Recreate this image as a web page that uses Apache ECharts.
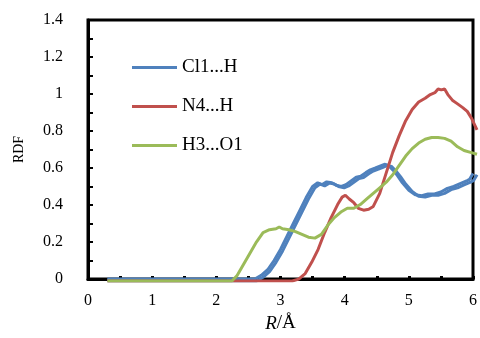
<!DOCTYPE html>
<html><head><meta charset="utf-8">
<script src="https://cdn.jsdelivr.net/npm/echarts@6/dist/echarts.min.js"></script>
<style>html,body{margin:0;padding:0;background:#fff}.layer{position:absolute;left:0;top:0;width:480px;height:338px}</style></head>
<body><div class="layer" id="axes"></div><div class="layer" id="plot"></div>
<script>
var seriesNames = ['Cl1...H', 'N4...H', 'H3...O1'];
var xTicks = [0, 1, 2, 3, 4, 5, 6];
var yTicks = [0, 0.2, 0.4, 0.6, 0.8, 1, 1.2, 1.4];

var blueR = [0.3, 2.6, 2.7, 2.8, 2.9, 3.0, 3.1, 3.2, 3.3, 3.4, 3.5, 3.58, 3.65, 3.72, 3.8, 3.88, 3.95, 4.02, 4.1, 4.18, 4.25, 4.33, 4.4, 4.48, 4.55, 4.62, 4.68, 4.75, 4.82, 4.9, 5.0, 5.1, 5.2, 5.3, 5.4, 5.5, 5.6, 5.7, 5.8, 5.9, 5.95, 6.0];
var blueV = [0, 0, 0.02, 0.05, 0.1, 0.16, 0.23, 0.30, 0.37, 0.44, 0.50, 0.52, 0.51, 0.525, 0.52, 0.505, 0.50, 0.51, 0.53, 0.55, 0.555, 0.575, 0.59, 0.60, 0.61, 0.62, 0.615, 0.59, 0.56, 0.52, 0.48, 0.455, 0.45, 0.46, 0.46, 0.47, 0.49, 0.50, 0.515, 0.53, 0.54, 0.57];

var redR = [0.3, 3.15, 3.25, 3.35, 3.45, 3.55, 3.65, 3.75, 3.85, 3.92, 3.97, 4.03, 4.1, 4.17, 4.25, 4.33, 4.4, 4.5, 4.6, 4.7, 4.8, 4.9, 5.0, 5.1, 5.2, 5.28, 5.35, 5.4, 5.45, 5.5, 5.55, 5.62, 5.7, 5.78, 5.85, 5.92, 6.0];
var redV = [0, 0, 0.01, 0.04, 0.1, 0.17, 0.26, 0.34, 0.41, 0.45, 0.46, 0.44, 0.42, 0.39, 0.38, 0.385, 0.40, 0.47, 0.58, 0.69, 0.78, 0.86, 0.92, 0.96, 0.98, 1.0, 1.01, 1.03, 1.025, 1.03, 1.0, 0.97, 0.95, 0.93, 0.91, 0.87, 0.81];

var greenR = [0.3, 2.22, 2.3, 2.4, 2.5, 2.6, 2.7, 2.8, 2.9, 2.95, 3.0, 3.1, 3.2, 3.3, 3.4, 3.5, 3.6, 3.7, 3.8, 3.9, 4.0, 4.1, 4.2, 4.3, 4.4, 4.5, 4.6, 4.7, 4.8, 4.9, 5.0, 5.1, 5.2, 5.3, 5.4, 5.5, 5.6, 5.7, 5.8, 5.9, 6.0];
var greenV = [0, 0, 0.03, 0.09, 0.15, 0.21, 0.26, 0.275, 0.28, 0.29, 0.28, 0.275, 0.265, 0.25, 0.235, 0.23, 0.25, 0.30, 0.34, 0.37, 0.39, 0.39, 0.41, 0.44, 0.47, 0.50, 0.53, 0.57, 0.62, 0.67, 0.71, 0.74, 0.76, 0.77, 0.77, 0.765, 0.75, 0.72, 0.70, 0.69, 0.68];

var lineColors = ['#4F81BD', '#C0504D', '#9BBB59'];

function toPairs(xs, ys) { return xs.map(function (x, i) { return [x, ys[i]]; }); }
var seriesData = [toPairs(blueR, blueV), toPairs(redR, redV), toPairs(greenR, greenV)];

var serifFont = 'Liberation Serif, Times New Roman, serif';
var gridBox = {left: 88, right: 3, top: 20, bottom: 57};

// Layer 1: frame, axes, ticks, labels (and the blue curve)
var axesChart = echarts.init(document.getElementById('axes'), null, {renderer: 'canvas'});
axesChart.setOption({
  animation: false,
  backgroundColor: '#fff',
  grid: {left: gridBox.left, right: gridBox.right, top: gridBox.top, bottom: gridBox.bottom, show: true, borderColor: '#000', borderWidth: 3},
  xAxis: {
    type: 'value', min: xTicks[0], max: xTicks[xTicks.length - 1], interval: 1,
    name: '{i|R}/Å', nameLocation: 'middle', nameGap: 35,
    nameTextStyle: {fontFamily: serifFont, fontSize: 19, color: '#000', rich: {i: {fontFamily: serifFont, fontSize: 19, fontStyle: 'italic', color: '#000'}}},
    axisLine: {show: true, lineStyle: {color: '#000', width: 3}},
    axisTick: {show: true, inside: true, length: 3, lineStyle: {color: '#000', width: 3}},
    minorTick: {show: true, splitNumber: 2, length: 3, lineStyle: {color: '#000', width: 3}},
    axisLabel: {fontFamily: serifFont, fontSize: 16, color: '#000', margin: 14},
    splitLine: {show: false}
  },
  yAxis: {
    type: 'value', min: yTicks[0], max: yTicks[yTicks.length - 1], interval: 0.2,
    name: 'RDF', nameLocation: 'middle', nameGap: 62,
    nameTextStyle: {fontFamily: serifFont, fontSize: 14, color: '#000'},
    axisLine: {show: true, lineStyle: {color: '#000', width: 3}},
    axisTick: {show: true, inside: true, length: 5, lineStyle: {color: '#000', width: 2}},
    minorTick: {show: true, splitNumber: 2, length: 5, lineStyle: {color: '#000', width: 2}},
    axisLabel: {fontFamily: serifFont, fontSize: 16, color: '#000', margin: 25},
    splitLine: {show: false}
  },
  series: [{name: seriesNames[0], type: 'line', data: seriesData[0], showSymbol: false, lineStyle: {width: 3, color: lineColors[0]}}]
});

// Layer 2: all curves and the legend, on a transparent canvas with the same grid and scales
var plotChart = echarts.init(document.getElementById('plot'), null, {renderer: 'canvas'});
plotChart.setOption({
  animation: false,
  backgroundColor: 'transparent',
  color: lineColors,
  grid: {left: gridBox.left, right: gridBox.right, top: gridBox.top, bottom: gridBox.bottom},
  legend: {
    orient: 'vertical', left: 127, top: 53, icon: 'rect', itemWidth: 45, itemHeight: 3, itemGap: 20,
    data: seriesNames,
    textStyle: {fontFamily: serifFont, fontSize: 19, color: '#000'}
  },
  xAxis: {type: 'value', min: xTicks[0], max: xTicks[xTicks.length - 1], interval: 1,
    axisLine: {show: false}, axisTick: {show: false}, axisLabel: {show: false}, splitLine: {show: false}},
  yAxis: {type: 'value', min: yTicks[0], max: yTicks[yTicks.length - 1], interval: 0.2,
    axisLine: {show: false}, axisTick: {show: false}, axisLabel: {show: false}, splitLine: {show: false}},
  series: seriesData.map(function (d, i) {
    return {name: seriesNames[i], type: 'line', data: d, showSymbol: false, lineStyle: {width: 3}};
  })
});
</script></body></html>
